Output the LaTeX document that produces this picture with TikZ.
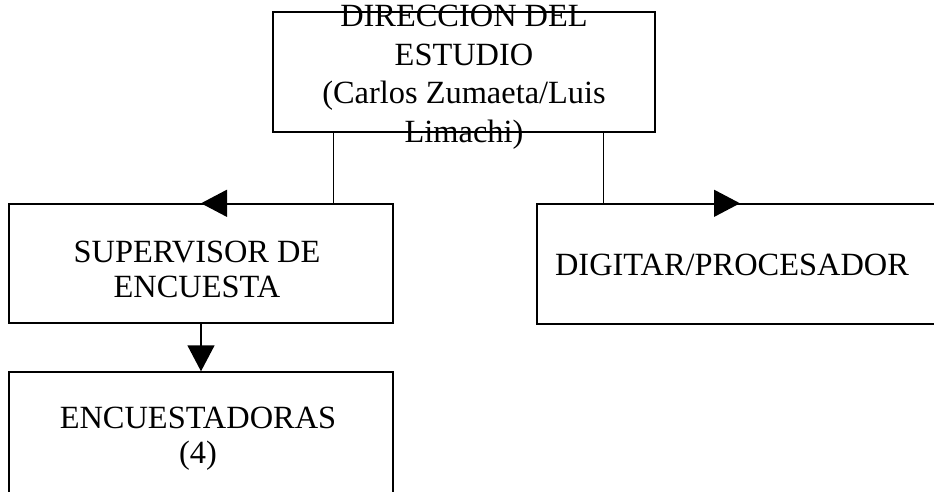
\documentclass[tikz,border=0pt]{standalone}
\usepackage{fontspec}
\setmainfont{Liberation Serif}
\usetikzlibrary{arrows.meta}
\tikzset{
  boxnode/.style={draw=black, line width=1.4pt, rectangle, inner sep=0pt},
  lbl/.style={align=center, anchor=base, inner sep=0pt, font=\fontsize{32.4}{34.5}\selectfont},
  toplbl/.style={lbl, font=\fontsize{32.4}{38.5}\selectfont},
  conn/.style={line width=1.4pt, -{Triangle[length=26pt,width=27pt]}}
}
\begin{document}
\begin{tikzpicture}[x=1pt,y=-1pt]
\clip (0,0) rectangle (934,491);
\fill[white] (0,0) rectangle (934,491);
% boxes
\node[boxnode, minimum width=382pt, minimum height=120pt] (dir) at (464,72) {};
\node[boxnode, minimum width=384pt, minimum height=119pt] (sup) at (201,263.5) {};
\node[boxnode, minimum width=406pt, minimum height=120pt] (dig) at (740,264) {};
\node[boxnode, minimum width=384pt, minimum height=122pt] (enc) at (201,433) {};
% texts (base anchor = baseline of last line)
\node[toplbl] (dirt) at (464,142) {DIRECCION DEL\\ESTUDIO\\(Carlos Zumaeta/Luis\\Limachi)};
\node[lbl] (supt) at (197,297) {SUPERVISOR DE\\ENCUESTA};
\node[lbl] (digt) at (732,275) {DIGITAR/PROCESADOR};
\node[lbl] (enct) at (198,463) {ENCUESTADORAS\\(4)};
% connectors
\draw[conn] ([xshift=61pt]dir.south west) |- (sup.north);
\draw[conn] ([xshift=-52pt]dir.south east) |- (dig.north);
\draw[conn] (sup.south) -- (enc.north);
\end{tikzpicture}
\end{document}
